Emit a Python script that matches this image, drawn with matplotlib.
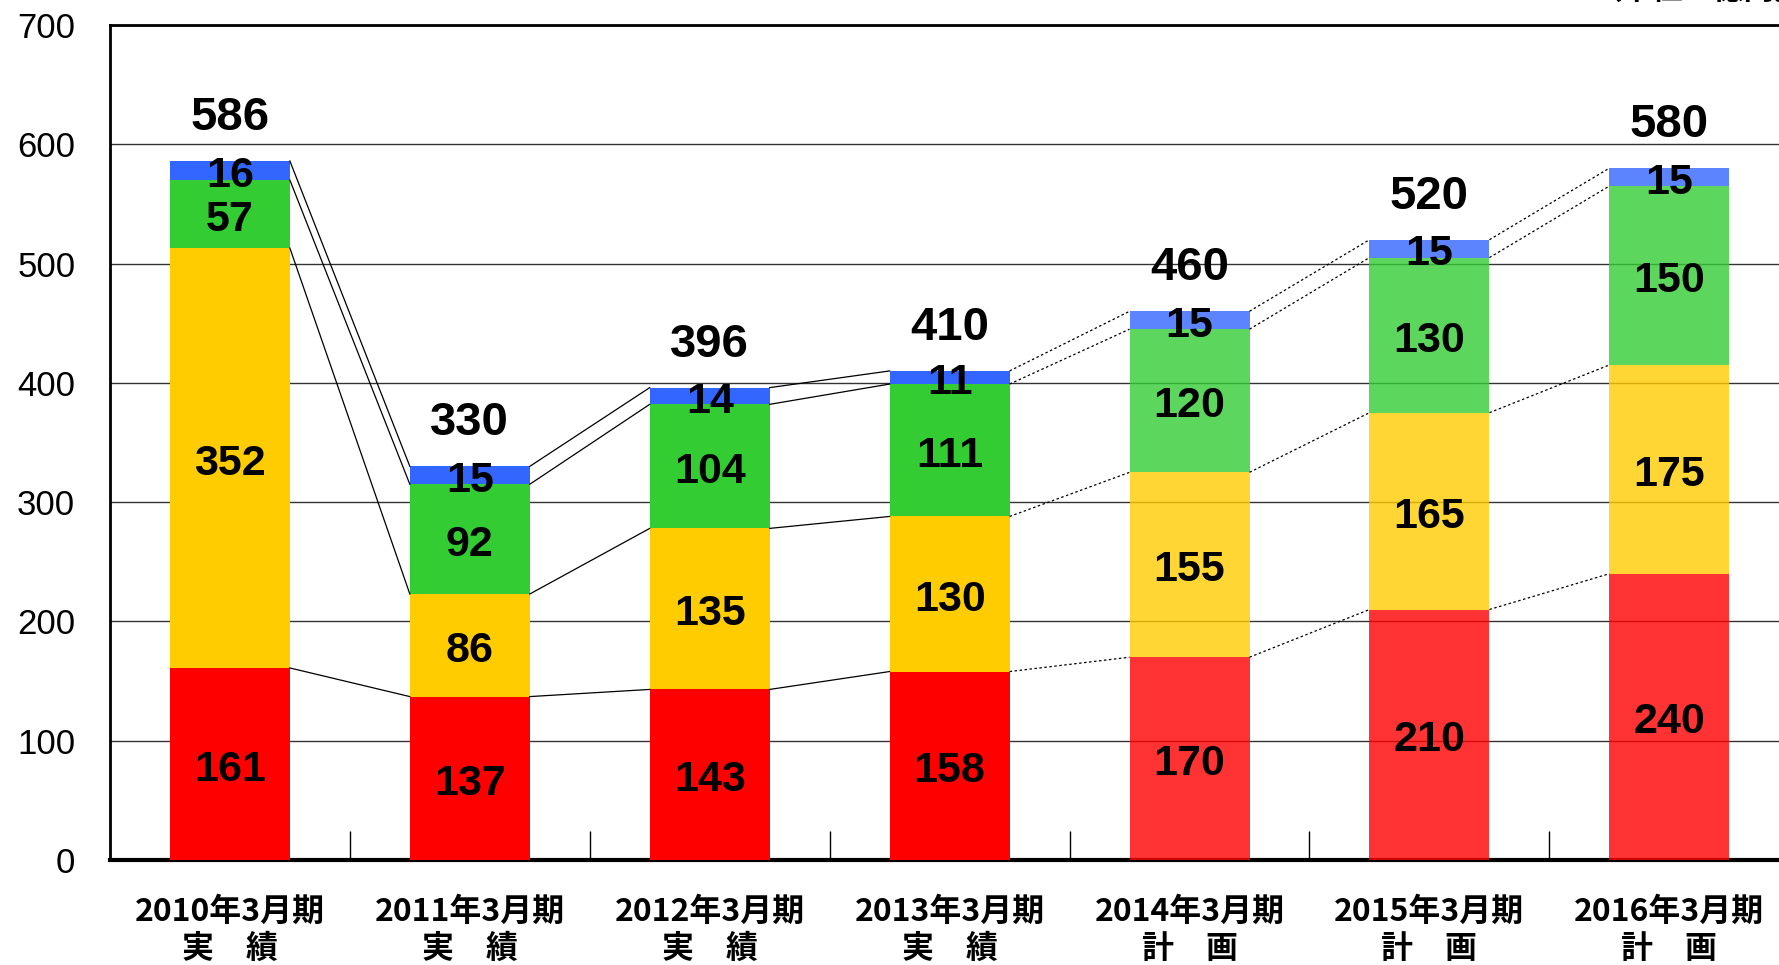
import matplotlib.pyplot as plt
import numpy as np

# Values (unit: 億円)
periods = ['2010年3月期\n実　績', '2011年3月期\n実　績', '2012年3月期\n実　績',
           '2013年3月期\n実　績', '2014年3月期\n計　画', '2015年3月期\n計　画',
           '2016年3月期\n計　画']
red_vals = [161, 137, 143, 158, 170, 210, 240]
yellow_vals = [352, 86, 135, 130, 155, 165, 175]
green_vals = [57, 92, 104, 111, 120, 130, 150]
blue_vals = [16, 15, 14, 11, 15, 15, 15]
n_actual = 4  # first four are results, the rest are plans

colors = ['#FF0000', '#FFCC00', '#33CC33', '#3366FF']
series = [red_vals, yellow_vals, green_vals, blue_vals]

fig = plt.figure(figsize=(17.79, 9.65), dpi=100)
ax = fig.add_axes([0.0618, 0.1088, 0.944, 0.8653])

x = np.arange(len(periods))
width = 0.5
data = np.array(series)
cum = np.vstack([np.zeros(len(x)), np.cumsum(data, axis=0)])

for k in range(4):
    for i in range(len(x)):
        alpha = 1.0 if i < n_actual else 0.8
        ax.bar(x[i], data[k, i], width, bottom=cum[k, i], color=colors[k],
               alpha=alpha, zorder=3, linewidth=0)
        ax.annotate(str(data[k, i]), (x[i], cum[k, i] + data[k, i] / 2),
                    xytext=(0, -4), textcoords='offset points',
                    ha='center', va='center', fontsize=31, fontweight='bold',
                    family='Liberation Sans', zorder=5)

# totals
totals = cum[-1]
for i in range(len(x)):
    ax.annotate(str(int(totals[i])), (x[i], totals[i]), xytext=(0, 31),
                textcoords='offset points', ha='center', va='center',
                fontsize=34, fontweight='bold', family='Liberation Sans')

# connecting lines between adjacent bars
for i in range(len(x) - 1):
    ls = '-' if i < n_actual - 1 else (0, (2, 2))
    for k in range(1, 5):
        ax.plot([x[i] + width / 2, x[i + 1] - width / 2], [cum[k, i], cum[k, i + 1]],
                color='black', lw=0.9, ls=ls, zorder=4)

ax.set_xlim(-0.5, 6.5)
ax.set_ylim(0, 700)
ax.set_yticks(range(0, 701, 100))
ax.yaxis.grid(True, color='#333333', lw=1, zorder=0)
ax.set_axisbelow(True)
ax.tick_params(axis='y', length=0, pad=25, labelsize=25)
for lab in ax.get_yticklabels():
    lab.set_family('Liberation Sans')

ax.set_xticks(x)
ax.set_xticklabels(periods, family=['Noto Sans CJK JP', 'DejaVu Sans'],
                   fontsize=23, fontweight='bold', linespacing=1.2)
ax.tick_params(axis='x', which='major', length=0, pad=26)
ax.set_xticks(np.arange(0.5, 6.5, 1), minor=True)
ax.tick_params(axis='x', which='minor', direction='in', length=21, width=1)

for s in ['left', 'top', 'bottom']:
    ax.spines[s].set_linewidth(2)
ax.spines['bottom'].set_linewidth(3)

fig.text(0.895, 0.994, '（単位：億円）', ha='left', va='bottom', fontsize=22,
         fontweight='bold', family=['Noto Sans CJK JP', 'DejaVu Sans'])

fig.savefig('out.png', dpi=100)
